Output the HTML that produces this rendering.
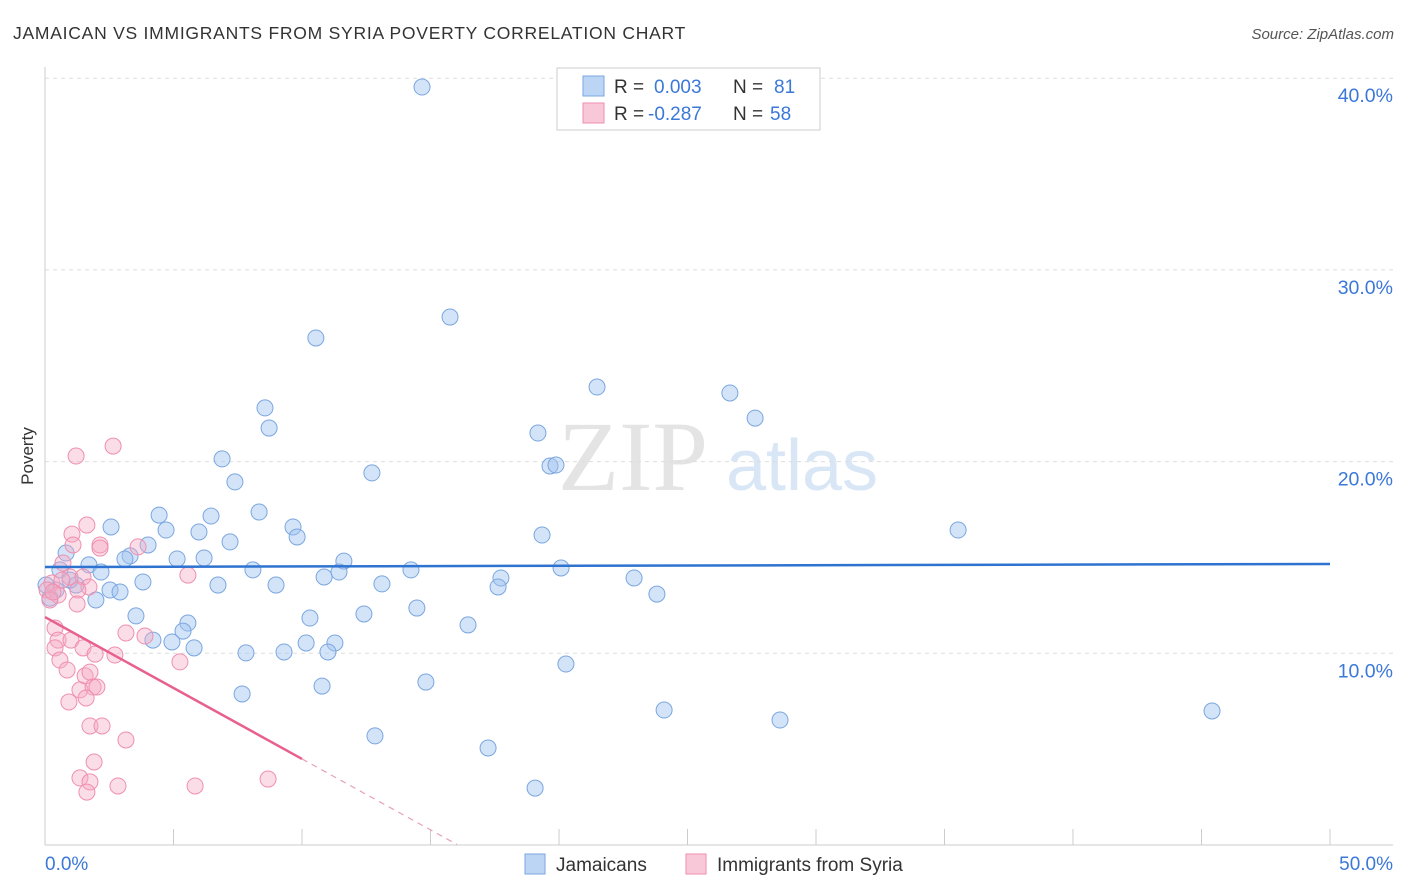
<!DOCTYPE html>
<html><head><meta charset="utf-8"><style>
body{margin:0;background:#fff;font-family:"Liberation Sans",sans-serif;}
#wrap{position:relative;width:1406px;height:892px;overflow:hidden;}
</style></head><body>
<div id="wrap">
<svg id="svg" width="1406" height="892" xmlns="http://www.w3.org/2000/svg">
<text x="13" y="39" font-size="17.5" fill="#333" letter-spacing="0.75">JAMAICAN VS IMMIGRANTS FROM SYRIA POVERTY CORRELATION CHART</text>
<text x="1394" y="39" font-size="15" fill="#555" font-style="italic" text-anchor="end">Source: ZipAtlas.com</text>
<text x="0" y="0" font-size="17" fill="#333" transform="translate(33,456) rotate(-90)" text-anchor="middle">Poverty</text>
<g>
<text x="633" y="490" font-size="100" fill="#e4e4e4" font-family="Liberation Serif,serif" text-anchor="middle">ZIP</text>
<text x="802" y="490" font-size="72" fill="#d8e6f6" text-anchor="middle">atlas</text>
</g>
<g id="grid"></g><g id="axes"></g><g id="marks"></g>
<g>
<rect x="557" y="68" width="263" height="62" fill="#fff" stroke="#ccc"/>
<rect x="583" y="76" width="21" height="20" fill="#bcd5f5" stroke="#7aa6e0"/>
<rect x="583" y="103" width="21" height="20" fill="#f9c8d8" stroke="#ef8fb0"/>
<text x="614" y="93" font-size="19" fill="#333">R = <tspan x="654" fill="#3b78d8">0.003</tspan><tspan x="733">N = </tspan><tspan x="774" fill="#3b78d8">81</tspan></text>
<text x="614" y="120" font-size="19" fill="#333">R = <tspan x="648" fill="#3b78d8">-0.287</tspan><tspan x="733">N = </tspan><tspan x="770" fill="#3b78d8">58</tspan></text>
</g>
<g>
<rect x="525" y="854" width="20" height="20" fill="#bcd5f5" stroke="#7aa6e0"/>
<text x="556" y="871" font-size="19" fill="#333">Jamaicans</text>
<rect x="686" y="854" width="20" height="20" fill="#f9c8d8" stroke="#ef8fb0"/>
<text x="717" y="871" font-size="19" fill="#333">Immigrants from Syria</text>
</g>
</svg>
</div>
<script>
const yTicks=[10,20,30,40];
const yTickLabels=["10.0%","20.0%","30.0%","40.0%"];
const xEndLabels=["0.0%","50.0%"];
const blueX=[14.67,15.76,10.54,21.48,26.65,8.56,27.63,8.72,19.18,6.89,12.72,19.65,19.88,7.39,8.33,4.44,2.57,6.46,4.71,9.65,5.99,9.81,35.53,19.34,4.01,7.20,0.82,3.31,3.11,5.14,6.19,11.63,1.71,0.58,2.18,8.09,14.24,20.08,10.86,11.44,17.74,22.92,3.81,6.73,8.99,13.11,17.63,1.21,2.53,2.92,23.81,1.98,0.43,14.47,3.54,10.31,12.41,16.46,5.56,5.37,4.20,4.94,5.80,10.16,11.28,7.82,9.30,11.01,20.27,10.78,14.82,7.67,24.09,28.60,45.41,12.84,17.24,19.07,0.19,0.04,0.97];
const blueY=[39.54,27.54,26.45,23.89,23.58,22.80,22.27,21.75,21.49,20.14,19.41,19.77,19.82,18.94,17.37,17.21,16.59,17.16,16.43,16.59,16.33,16.07,16.43,16.17,15.65,15.81,15.23,15.08,14.92,14.92,14.97,14.81,14.61,14.35,14.24,14.35,14.35,14.45,13.98,14.24,13.93,13.93,13.72,13.56,13.56,13.62,13.46,13.56,13.30,13.20,13.09,12.78,13.30,12.36,11.95,11.84,12.05,11.48,11.58,11.16,10.69,10.59,10.28,10.54,10.54,10.02,10.07,10.07,9.44,8.29,8.50,7.88,7.04,6.52,6.99,5.69,5.06,2.97,12.88,13.56,13.82];
const pinkX=[2.65,1.21,1.63,1.05,2.14,1.09,3.62,0.70,0.27,0.08,0.51,0.97,1.48,1.71,1.28,5.56,1.25,0.39,0.51,1.01,3.15,3.89,1.48,1.95,2.72,0.39,0.58,0.86,5.25,1.56,1.75,1.36,1.87,2.02,0.93,1.60,1.75,2.22,3.15,1.91,1.36,1.75,1.63,2.84,5.84,8.68,0.19,0.31,0.66,2.14];
const pinkY=[20.81,20.29,16.69,16.22,15.65,15.65,15.55,14.71,13.67,13.30,13.04,13.98,13.98,13.46,13.30,14.08,12.57,11.32,10.69,10.69,11.06,10.90,10.28,9.96,9.91,10.28,9.65,9.13,9.55,8.82,9.02,8.09,8.24,8.24,7.46,7.67,6.21,6.21,5.48,4.33,3.50,3.29,2.76,3.08,3.08,3.44,12.78,13.20,13.82,15.49];
const blueTrend=[14.50,14.66];
const pinkTrend=[11.89,-0.74];
const pinkSolidEnd=10, pinkDashEnd=16.03;

const X0=45,X1=1330,Y0=845,PX=19.17;
const xs=v=>X0+(X1-X0)*v/50, ys=v=>Y0-v*PX;
const NS="http://www.w3.org/2000/svg";
function mk(tag,attrs,parent){const e=document.createElementNS(NS,tag);for(const k in attrs)e.setAttribute(k,attrs[k]);document.getElementById(parent).appendChild(e);return e;}
yTicks.forEach((t,i)=>{
 const l=mk('line',{x1:X0,x2:1393,y1:ys(t),y2:ys(t),stroke:'#ddd','stroke-dasharray':'4,4'},'grid');
 
 
 const tx=mk('text',{x:1393,y:ys(t)+24,'font-size':19.5,fill:'#3b78d8','text-anchor':'end'},'grid');
 tx.textContent=yTickLabels[i];
 
 
});
let a=mk('line',{x1:X0,x2:X0,y1:67,y2:Y0,stroke:'#ccc'},'axes');


a=mk('line',{x1:X0,x2:1393,y1:Y0,y2:Y0,stroke:'#ccc'},'axes');


for(let i=0;i<=10;i++){const t=mk('line',{x1:xs(i*5),x2:xs(i*5),y1:829,y2:Y0,stroke:'#ccc'},'axes');
 
 }
[[0,'start',45],[50,'end',1393]].forEach((d,i)=>{const t=mk('text',{x:d[2],y:870,'font-size':19,fill:'#3b78d8','text-anchor':d[1]},'axes');t.textContent=xEndLabels[i];
 
 });
blueX.forEach((x,i)=>{const c=mk('circle',{cx:xs(x),cy:ys(blueY[i]),r:8,fill:'rgba(160,195,240,0.45)',stroke:'#7aa6e0','stroke-width':1},'marks');
 
 });
pinkX.forEach((x,i)=>{const c=mk('circle',{cx:xs(x),cy:ys(pinkY[i]),r:8,fill:'rgba(245,170,195,0.4)',stroke:'#ef8fb0','stroke-width':1},'marks');
 
 });
let tl=mk('line',{x1:xs(0),y1:ys(blueTrend[0]),x2:xs(50),y2:ys(blueTrend[1]),stroke:'#2f73d0','stroke-width':2.5},'marks');


const pf=x=>pinkTrend[0]+pinkTrend[1]*x;
tl=mk('line',{x1:xs(0),y1:ys(pf(0)),x2:xs(pinkSolidEnd),y2:ys(pf(pinkSolidEnd)),stroke:'#e8608f','stroke-width':2.5},'marks');


tl=mk('line',{x1:xs(pinkSolidEnd),y1:ys(pf(pinkSolidEnd)),x2:xs(pinkDashEnd),y2:ys(pf(pinkDashEnd)),stroke:'#e8a0b8','stroke-width':1.2,'stroke-dasharray':'6,5'},'marks');


</script>
</body></html>
